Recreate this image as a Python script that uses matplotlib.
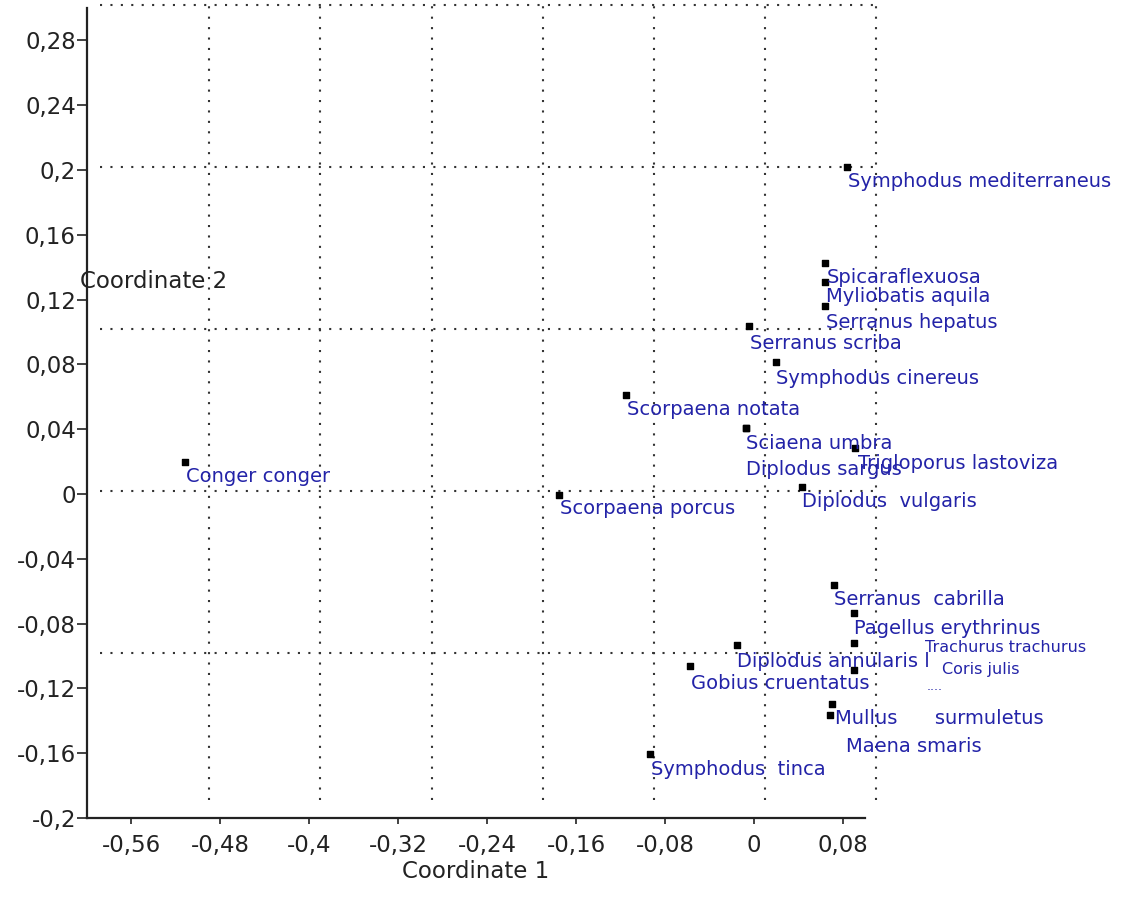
import numpy as np
import matplotlib
matplotlib.use('Agg')
import matplotlib.pyplot as plt
from matplotlib.ticker import FuncFormatter

# species and their coordinates
species = ['Symphodus mediterraneus', 'Spicaraflexuosa', 'Myliobatis aquila',
           'Serranus hepatus', 'Serranus scriba', 'Symphodus cinereus',
           'Scorpaena notata', 'Sciaena umbra', 'Diplodus sargus',
           'Trigloporus lastoviza', 'Diplodus  vulgaris', 'Scorpaena porcus',
           'Conger conger', 'Serranus  cabrilla', 'Pagellus erythrinus',
           'Trachurus trachurus', 'Diplodus annularis l', 'Coris julis',
           'Gobius cruentatus', 'Mullus      surmuletus', 'Maena smaris',
           'Symphodus  tinca']
coord1 = [0.0839, 0.0644, 0.0644, 0.0644, -0.0041, 0.0200,
          -0.1148, -0.0070, -0.0070, 0.0907, 0.0437, -0.1751,
          -0.5117, 0.0725, 0.0905, 0.0905, -0.0151, 0.0905,
          -0.0572, 0.0689, 0.0704, -0.0932]
coord2 = [0.2020, 0.1426, 0.1309, 0.1160, 0.1037, 0.0815,
          0.0613, 0.0407, 0.0407, 0.0282, 0.0043, -0.0006,
          0.0199, -0.0562, -0.0735, -0.0918, -0.0932, -0.1086,
          -0.1062, -0.1364, -0.1296, -0.1605]

xticks = [-0.56, -0.48, -0.4, -0.32, -0.24, -0.16, -0.08, 0, 0.08]
yticks = [-0.2, -0.16, -0.12, -0.08, -0.04, 0, 0.04, 0.08, 0.12, 0.16, 0.2, 0.24, 0.28]
grid_x = [-0.49, -0.39, -0.29, -0.19, -0.09, 0.01, 0.11]
grid_y = [-0.098, 0.002, 0.102, 0.202, 0.302]

# label placement in pixels relative to the point (dx, dy), font size
label_off = [(1, -15), (1, -15), (1, -15), (1, -16), (1, -17), (0, -17),
             (1, -15), (0, -15), (0, -41), (3, -15), (0, -14), (1, -14),
             (1, -15), (0, -14), (0, -15), (71, -5), (0, -17), (88, 0),
             (1, -17), (5, -4), (14, -43), (1, -15)]
label_size = [14] * len(species)
label_size[species.index('Trachurus trachurus')] = 11.5
label_size[species.index('Coris julis')] = 11.5

blue = '#2323a8'

fig = plt.figure(figsize=(11.32, 8.98), dpi=100)
ax = fig.add_axes([87/1132, 80/898, 778/1132, 810/898])
ax.set_xlim(-0.6, 0.1)
ax.set_ylim(-0.2, 0.3)

# dotted reference lines
dot = (0, (1, 4))
for gx in grid_x:
    ax.plot([gx, gx], [-0.189, 0.305], color='#333333', lw=1.5, ls=dot, clip_on=False, zorder=1)
for gy in grid_y:
    ax.plot([-0.588, 0.114], [gy, gy], color='#333333', lw=1.5, ls=dot, clip_on=False, zorder=1)

ax.scatter(coord1, coord2, marker='s', s=18, color='black', zorder=3, clip_on=False)

for i, name in enumerate(species):
    ax.annotate(name, (coord1[i], coord2[i]), xytext=label_off[i],
                textcoords='offset pixels', ha='left', va='center',
                fontsize=label_size[i], color=blue, family='DejaVu Sans',
                annotation_clip=False, zorder=4)

# leader dots near Coris julis
ax.annotate('....', (coord1[17], coord2[17]), xytext=(72, -17), textcoords='offset pixels',
            ha='left', va='center', fontsize=9, color=blue, annotation_clip=False)

for s in ['top', 'right']:
    ax.spines[s].set_visible(False)
for s in ['left', 'bottom']:
    ax.spines[s].set_linewidth(1.6)
    ax.spines[s].set_color('#222222')

fmt = FuncFormatter(lambda v, p: ('%g' % round(v, 2)).replace('.', ',') if abs(v) > 1e-9 else '0')
ax.set_xticks(xticks)
ax.set_yticks(yticks)
ax.xaxis.set_major_formatter(fmt)
ax.yaxis.set_major_formatter(fmt)
ax.tick_params(axis='x', direction='out', length=4.5, width=1.2, pad=7, labelsize=16.5, colors='#222222')
ax.tick_params(axis='y', direction='out', length=7, width=1.2, pad=1, labelsize=16.5, colors='#222222')

fig.text(476/1132, 1 - 872/898, 'Coordinate 1', ha='center', va='center', fontsize=16.5, color='#222222')
fig.text(154/1132, 1 - 281/898, 'Coordinate 2', ha='center', va='center', fontsize=16.5, color='#222222')

fig.savefig('out.png', dpi=100)
